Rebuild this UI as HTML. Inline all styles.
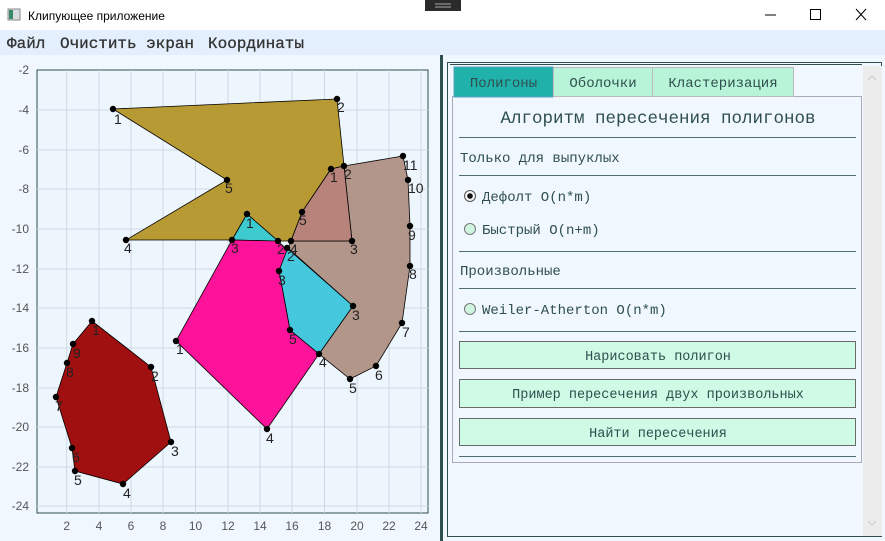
<!DOCTYPE html>
<html><head><meta charset="utf-8"><style>
body{margin:0;width:885px;height:541px;overflow:hidden;background:#f0f7ff;font-family:"Liberation Sans",sans-serif}
</style></head><body>
<svg width="885" height="541" xmlns="http://www.w3.org/2000/svg" style="position:absolute;left:0;top:0">
<!-- title bar -->
<rect x="0" y="0" width="885" height="30" fill="#fff"/>
<rect x="425" y="0" width="36" height="11" fill="#2b2b2b"/>
<line x1="435" y1="4" x2="451" y2="4" stroke="#aaa"/><line x1="435" y1="7" x2="451" y2="7" stroke="#aaa"/>
<rect x="8" y="9" width="12" height="11" fill="#d8dde2" stroke="#888"/><rect x="9" y="10" width="4" height="9" fill="#3a8a6a"/>
<text x="28" y="20" font-size="12" fill="#000">Клипующее приложение</text>
<line x1="765" y1="15" x2="776" y2="15" stroke="#000"/>
<rect x="810.5" y="9.5" width="10" height="10" fill="none" stroke="#000"/>
<path d="M856 9 L866 20 M866 9 L856 20" stroke="#000"/>
<!-- menu -->
<rect x="0" y="30" width="885" height="25" fill="#e3effc"/>
<g font-family="Liberation Mono,monospace" font-size="16" fill="#333" stroke="#333" stroke-width="0.3">
<text x="7" y="48">Файл</text>
<text x="60" y="48" textLength="134">Очистить экран</text>
<text x="208" y="48" textLength="96">Координаты</text>
</g>
<!-- plot -->
<rect x="37" y="70" width="391" height="443" fill="#eef6fd" stroke="#2f4f4f"/>
<g stroke="#cfd8e2" stroke-width="1">
<line x1="66.7" y1="70" x2="66.7" y2="513"/><line x1="99" y1="70" x2="99" y2="513"/><line x1="131" y1="70" x2="131" y2="513"/><line x1="163" y1="70" x2="163" y2="513"/><line x1="195.5" y1="70" x2="195.5" y2="513"/><line x1="228" y1="70" x2="228" y2="513"/><line x1="260" y1="70" x2="260" y2="513"/><line x1="292" y1="70" x2="292" y2="513"/><line x1="324.5" y1="70" x2="324.5" y2="513"/><line x1="357" y1="70" x2="357" y2="513"/><line x1="389" y1="70" x2="389" y2="513"/><line x1="421" y1="70" x2="421" y2="513"/>
<line x1="37" y1="110" x2="428" y2="110"/><line x1="37" y1="150" x2="428" y2="150"/><line x1="37" y1="189" x2="428" y2="189"/><line x1="37" y1="229" x2="428" y2="229"/><line x1="37" y1="269" x2="428" y2="269"/><line x1="37" y1="308" x2="428" y2="308"/><line x1="37" y1="348" x2="428" y2="348"/><line x1="37" y1="388" x2="428" y2="388"/><line x1="37" y1="427" x2="428" y2="427"/><line x1="37" y1="467" x2="428" y2="467"/><line x1="37" y1="506" x2="428" y2="506"/>
</g>
<g font-size="12" fill="#555" text-anchor="end">
<text x="29" y="74">-2</text><text x="29" y="114">-4</text><text x="29" y="154">-6</text><text x="29" y="193">-8</text><text x="29" y="233">-10</text><text x="29" y="273">-12</text><text x="29" y="312">-14</text><text x="29" y="352">-16</text><text x="29" y="392">-18</text><text x="29" y="431">-20</text><text x="29" y="471">-22</text><text x="29" y="510">-24</text>
</g>
<g font-size="12" fill="#555" text-anchor="middle">
<text x="66.7" y="530">2</text><text x="99" y="530">4</text><text x="131" y="530">6</text><text x="163" y="530">8</text><text x="195.5" y="530">10</text><text x="228" y="530">12</text><text x="260" y="530">14</text><text x="292" y="530">16</text><text x="324.5" y="530">18</text><text x="357" y="530">20</text><text x="389" y="530">22</text><text x="421" y="530">24</text>
</g>
<g stroke="#000" stroke-width="0.8">
<polygon fill="#b3968a" points="344,166 403,156 408,180 410,226 410,266 402,323 376,366 350,379 319,354 353,306 288,248 291,241 352,241"/>
<polygon fill="#b89a35" points="113,109 337,99 344,166 331,169 302,212 291,241 278,241 247,214 232,240 126,240 227,180"/>
<polygon fill="#b7837a" points="331,169 344,166 352,241 291,241 302,212"/>
<polygon fill="#3ecbd0" points="247,214 278,241 232,240"/>
<polygon fill="#45c8de" points="287,248 353,306 319,354 290,330 279,271"/>
<polygon fill="#fc1399" points="232,240 278,241 287,250 279,271 290,330 319,354 267,429 176,341"/>
<polygon fill="#a11010" points="92,321 151,367 171,442 123,484 75,471 72,448 56,397 67,363 73,344"/>
</g>
<g fill="#000">
<circle cx="113" cy="109" r="3.2"/><circle cx="337" cy="99" r="3.2"/><circle cx="344" cy="166" r="3.2"/><circle cx="331" cy="169" r="3.2"/><circle cx="302" cy="212" r="3.2"/><circle cx="291" cy="241" r="3.2"/><circle cx="278" cy="241" r="3.2"/><circle cx="247" cy="214" r="3.2"/><circle cx="232" cy="240" r="3.2"/><circle cx="126" cy="240" r="3.2"/><circle cx="227" cy="180" r="3.2"/><circle cx="352" cy="241" r="3.2"/><circle cx="403" cy="156" r="3.2"/><circle cx="408" cy="180" r="3.2"/><circle cx="410" cy="226" r="3.2"/><circle cx="410" cy="266" r="3.2"/><circle cx="402" cy="323" r="3.2"/><circle cx="376" cy="366" r="3.2"/><circle cx="350" cy="379" r="3.2"/><circle cx="319" cy="354" r="3.2"/><circle cx="353" cy="306" r="3.2"/><circle cx="287" cy="248" r="3.2"/><circle cx="279" cy="271" r="3.2"/><circle cx="290" cy="330" r="3.2"/><circle cx="267" cy="429" r="3.2"/><circle cx="176" cy="341" r="3.2"/>
<circle cx="92" cy="321" r="3.2"/><circle cx="151" cy="367" r="3.2"/><circle cx="171" cy="442" r="3.2"/><circle cx="123" cy="484" r="3.2"/><circle cx="75" cy="471" r="3.2"/><circle cx="72" cy="448" r="3.2"/><circle cx="56" cy="397" r="3.2"/><circle cx="67" cy="363" r="3.2"/><circle cx="73" cy="344" r="3.2"/>
</g>
<g font-size="14" fill="#222">
<text x="114" y="124">1</text><text x="337" y="112">2</text><text x="225" y="193">5</text><text x="124" y="253">4</text><text x="231" y="253">3</text><text x="246" y="228">1</text><text x="277" y="254">2</text><text x="290" y="254">4</text><text x="287" y="261">2</text><text x="299" y="225">5</text><text x="330" y="182">1</text><text x="344" y="179">2</text><text x="350" y="254">3</text>
<text x="403" y="170">11</text><text x="408" y="193">10</text><text x="408" y="240">9</text><text x="409" y="279">8</text><text x="402" y="337">7</text><text x="375" y="380">6</text><text x="349" y="393">5</text><text x="319" y="367">4</text><text x="352" y="320">3</text><text x="278" y="285">3</text><text x="289" y="344">5</text><text x="266" y="443">4</text><text x="176" y="354">1</text>
<text x="92" y="335">1</text><text x="151" y="381">2</text><text x="171" y="456">3</text><text x="123" y="498">4</text><text x="74" y="485">5</text><text x="72" y="462">6</text><text x="55" y="411">7</text><text x="66" y="377">8</text><text x="73" y="358">9</text>
</g>
<!-- divider -->
<rect x="440" y="55" width="3" height="486" fill="#2f4f4f"/>
<!-- right panel -->
<rect x="447.5" y="62.5" width="434" height="474" fill="#f0f7ff" stroke="#2f4f4f"/>
<line x1="450" y1="64.5" x2="862" y2="64.5" stroke="#2f4f4f"/>
<rect x="863" y="66" width="19" height="470" fill="#ececec"/>
<rect x="452.5" y="96.5" width="409" height="366" fill="#f0f7ff" stroke="#aab"/>
<rect x="454" y="67" width="99" height="30" fill="#20b2aa" stroke="#5aa0c0"/>
<rect x="553.5" y="67.5" width="99" height="29" fill="#b8f5d8" stroke="#bbb"/>
<rect x="652.5" y="67.5" width="141" height="29" fill="#b8f5d8" stroke="#bbb"/>
<g font-family="Liberation Mono,monospace" fill="#2f4f4f">
<text x="503.5" y="87" font-size="14" text-anchor="middle">Полигоны</text>
<text x="603" y="87" font-size="14" text-anchor="middle">Оболочки</text>
<text x="723" y="87" font-size="14" text-anchor="middle">Кластеризация</text>
<text x="658" y="123" font-size="17.5" text-anchor="middle">Алгоритм пересечения полигонов</text>
<text x="460" y="162" font-size="14">Только для выпуклых</text>
<text x="482" y="201" font-size="14">Дефолт O(n*m)</text>
<text x="482" y="234" font-size="14">Быстрый O(n+m)</text>
<text x="460" y="275" font-size="14">Произвольные</text>
<text x="482" y="314" font-size="14">Weiler-Atherton O(n*m)</text>
</g>
<g stroke="#4f6f6f">
<line x1="459" y1="137.5" x2="856" y2="137.5"/><line x1="459" y1="175.5" x2="856" y2="175.5"/><line x1="459" y1="251.5" x2="856" y2="251.5"/><line x1="459" y1="288.5" x2="856" y2="288.5"/><line x1="459" y1="331.5" x2="856" y2="331.5"/><line x1="459" y1="456.5" x2="856" y2="456.5"/>
</g>
<circle cx="470" cy="196" r="5.5" fill="#f4f4f4" stroke="#555"/><circle cx="470" cy="196" r="2.8" fill="#111"/>
<circle cx="470" cy="229" r="5.5" fill="#d0f5e0" stroke="#777"/>
<circle cx="470" cy="309" r="5.5" fill="#d0f5e0" stroke="#777"/>
<g fill="#cffae5" stroke="#6a6a6a">
<rect x="459.5" y="341.5" width="396" height="27"/><rect x="459.5" y="379.5" width="396" height="28"/><rect x="459.5" y="418.5" width="396" height="27"/>
</g>
<g font-family="Liberation Mono,monospace" font-size="13.5" fill="#2f4f4f" text-anchor="middle">
<text x="658" y="360">Нарисовать полигон</text>
<text x="658" y="398">Пример пересечения двух произвольных</text>
<text x="658" y="437">Найти пересечения</text>
</g>
<path d="M868 80 L872 76 L876 80 M868 521 L872 525 L876 521" stroke="#ccc" fill="none"/>
</svg>
</body></html>
